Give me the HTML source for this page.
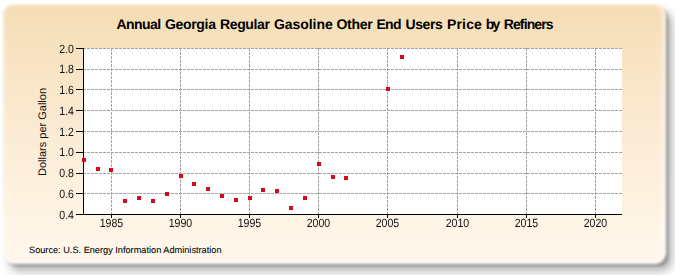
<!DOCTYPE html>
<html><head><meta charset="utf-8"><style>
html,body{margin:0;padding:0;background:#fff;width:675px;height:275px;overflow:hidden;}
body{position:relative;font-family:"Liberation Sans",sans-serif;text-rendering:geometricPrecision;}
.box{position:absolute;left:2.5px;top:3.5px;width:662.5px;height:259.5px;border-radius:10px;
 background:linear-gradient(to bottom,#f5ddb3 0%,#f9e5c6 25%,#fbebd4 50%,#fef1df 72%,#fff6e8 88%,#fff8ee 100%);box-shadow:0 0 1px 1px rgba(255,255,255,0.8),0 0 3px 2px rgba(255,255,255,0.5),inset -2px 0 4px 1px rgba(255,255,255,0.45),inset 2px 0 4px 0px rgba(255,255,255,0.3);filter:blur(1.2px);}
.tw{position:absolute;top:16px;font-weight:bold;font-size:14px;color:#000;line-height:16px;white-space:nowrap;}
.yl{position:absolute;left:24px;width:50px;text-align:right;font-size:12px;line-height:14px;color:#111;transform:scaleX(0.88);transform-origin:100% 50%;}
.xl{position:absolute;top:216px;width:41px;text-align:center;font-size:12px;line-height:14px;color:#111;transform:scaleX(0.88);}
.ytitle{position:absolute;left:42.5px;top:132px;font-size:11px;line-height:12px;color:#111;transform:translate(-50%,-50%) rotate(-90deg);white-space:nowrap;}
.src{position:absolute;left:29px;top:244px;font-size:9.2px;line-height:12px;color:#000;-webkit-text-stroke:0.08px #000;white-space:nowrap;}
svg{position:absolute;left:0;top:0;}
</style></head><body>
<svg width="675" height="275" style="position:absolute;left:0;top:0"><defs><filter id="sh1" x="-5%" y="-10%" width="110%" height="120%"><feGaussianBlur stdDeviation="1.6"/></filter><filter id="sh2" x="-5%" y="-10%" width="110%" height="120%"><feGaussianBlur stdDeviation="4 5"/></filter></defs><rect x="9" y="12" width="663" height="259" rx="10" fill="#000" fill-opacity="0.3" filter="url(#sh2)"/><rect x="6" y="7" width="662" height="259" rx="10" fill="#000" fill-opacity="0.34" filter="url(#sh1)"/></svg>
<div class="box"></div>
<div class="tw" style="left:116.4px;letter-spacing:-0.54px">Annual</div><div class="tw" style="left:165.0px;letter-spacing:-0.33px">Georgia</div><div class="tw" style="left:220.0px;letter-spacing:-0.38px">Regular</div><div class="tw" style="left:274.0px;letter-spacing:-0.06px">Gasoline</div><div class="tw" style="left:336.4px;letter-spacing:-0.28px">Other</div><div class="tw" style="left:376.4px;letter-spacing:-0.70px">End</div><div class="tw" style="left:405.4px;letter-spacing:-0.35px">Users</div><div class="tw" style="left:447.0px;letter-spacing:0.15px">Price</div><div class="tw" style="left:485.7px;letter-spacing:-1.70px">by</div><div class="tw" style="left:503.7px;letter-spacing:-0.87px">Refiners</div>
<svg width="675" height="275" viewBox="0 0 675 275" shape-rendering="crispEdges">
<rect x="84" y="48" width="538" height="166" fill="#fff"/><line x1="83" y1="48.5" x2="622" y2="48.5" stroke="#a5a5a5" stroke-dasharray="3,1"/><line x1="83" y1="69.5" x2="622" y2="69.5" stroke="#a5a5a5" stroke-dasharray="3,1"/><line x1="83" y1="89.5" x2="622" y2="89.5" stroke="#a5a5a5" stroke-dasharray="3,1"/><line x1="83" y1="110.5" x2="622" y2="110.5" stroke="#a5a5a5" stroke-dasharray="3,1"/><line x1="83" y1="131.5" x2="622" y2="131.5" stroke="#a5a5a5" stroke-dasharray="3,1"/><line x1="83" y1="152.5" x2="622" y2="152.5" stroke="#a5a5a5" stroke-dasharray="3,1"/><line x1="83" y1="173.5" x2="622" y2="173.5" stroke="#a5a5a5" stroke-dasharray="3,1"/><line x1="83" y1="193.5" x2="622" y2="193.5" stroke="#a5a5a5" stroke-dasharray="3,1"/><line x1="111.5" y1="48" x2="111.5" y2="214" stroke="#a5a5a5" stroke-dasharray="3,1"/><line x1="180.5" y1="48" x2="180.5" y2="214" stroke="#a5a5a5" stroke-dasharray="3,1"/><line x1="249.5" y1="48" x2="249.5" y2="214" stroke="#a5a5a5" stroke-dasharray="3,1"/><line x1="318.5" y1="48" x2="318.5" y2="214" stroke="#a5a5a5" stroke-dasharray="3,1"/><line x1="387.5" y1="48" x2="387.5" y2="214" stroke="#a5a5a5" stroke-dasharray="3,1"/><line x1="457.5" y1="48" x2="457.5" y2="214" stroke="#a5a5a5" stroke-dasharray="3,1"/><line x1="526.5" y1="48" x2="526.5" y2="214" stroke="#a5a5a5" stroke-dasharray="3,1"/><line x1="595.5" y1="48" x2="595.5" y2="214" stroke="#a5a5a5" stroke-dasharray="3,1"/><line x1="83.5" y1="48" x2="83.5" y2="215" stroke="#000"/><line x1="83" y1="214.5" x2="622" y2="214.5" stroke="#000"/><line x1="76" y1="48.5" x2="83" y2="48.5" stroke="#000"/><line x1="76" y1="69.5" x2="83" y2="69.5" stroke="#000"/><line x1="76" y1="89.5" x2="83" y2="89.5" stroke="#000"/><line x1="76" y1="110.5" x2="83" y2="110.5" stroke="#000"/><line x1="76" y1="131.5" x2="83" y2="131.5" stroke="#000"/><line x1="76" y1="152.5" x2="83" y2="152.5" stroke="#000"/><line x1="76" y1="173.5" x2="83" y2="173.5" stroke="#000"/><line x1="76" y1="193.5" x2="83" y2="193.5" stroke="#000"/><line x1="76" y1="214.5" x2="83" y2="214.5" stroke="#000"/><line x1="111.5" y1="214" x2="111.5" y2="218" stroke="#000"/><line x1="180.5" y1="214" x2="180.5" y2="218" stroke="#000"/><line x1="249.5" y1="214" x2="249.5" y2="218" stroke="#000"/><line x1="318.5" y1="214" x2="318.5" y2="218" stroke="#000"/><line x1="387.5" y1="214" x2="387.5" y2="218" stroke="#000"/><line x1="457.5" y1="214" x2="457.5" y2="218" stroke="#000"/><line x1="526.5" y1="214" x2="526.5" y2="218" stroke="#000"/><line x1="595.5" y1="214" x2="595.5" y2="218" stroke="#000"/><rect x="82" y="158" width="4" height="4" fill="#d6081c"/><rect x="96" y="167" width="4" height="4" fill="#d6081c"/><rect x="109" y="168" width="4" height="4" fill="#d6081c"/><rect x="123" y="199" width="4" height="4" fill="#d6081c"/><rect x="137" y="196" width="4" height="4" fill="#d6081c"/><rect x="151" y="199" width="4" height="4" fill="#d6081c"/><rect x="165" y="192" width="4" height="4" fill="#d6081c"/><rect x="179" y="174" width="4" height="4" fill="#d6081c"/><rect x="192" y="182" width="4" height="4" fill="#d6081c"/><rect x="206" y="187" width="4" height="4" fill="#d6081c"/><rect x="220" y="194" width="4" height="4" fill="#d6081c"/><rect x="234" y="198" width="4" height="4" fill="#d6081c"/><rect x="248" y="196" width="4" height="4" fill="#d6081c"/><rect x="261" y="188" width="4" height="4" fill="#d6081c"/><rect x="275" y="189" width="4" height="4" fill="#d6081c"/><rect x="289" y="206" width="4" height="4" fill="#d6081c"/><rect x="303" y="196" width="4" height="4" fill="#d6081c"/><rect x="317" y="162" width="4" height="4" fill="#d6081c"/><rect x="331" y="175" width="4" height="4" fill="#d6081c"/><rect x="344" y="176" width="4" height="4" fill="#d6081c"/><rect x="386" y="87" width="4" height="4" fill="#d6081c"/><rect x="400" y="55" width="4" height="4" fill="#d6081c"/>
</svg>
<div class="yl" style="top:42px">2.0</div><div class="yl" style="top:62px">1.8</div><div class="yl" style="top:83px">1.6</div><div class="yl" style="top:104px">1.4</div><div class="yl" style="top:125px">1.2</div><div class="yl" style="top:145px">1.0</div><div class="yl" style="top:166px">0.8</div><div class="yl" style="top:187px">0.6</div><div class="yl" style="top:208px">0.4</div><div class="xl" style="left:91px">1985</div><div class="xl" style="left:160px">1990</div><div class="xl" style="left:229px">1995</div><div class="xl" style="left:298px">2000</div><div class="xl" style="left:367px">2005</div><div class="xl" style="left:437px">2010</div><div class="xl" style="left:506px">2015</div><div class="xl" style="left:575px">2020</div>
<div class="ytitle">Dollars per Gallon</div>
<div class="src">Source: U.S. Energy Information Administration</div>
</body></html>
